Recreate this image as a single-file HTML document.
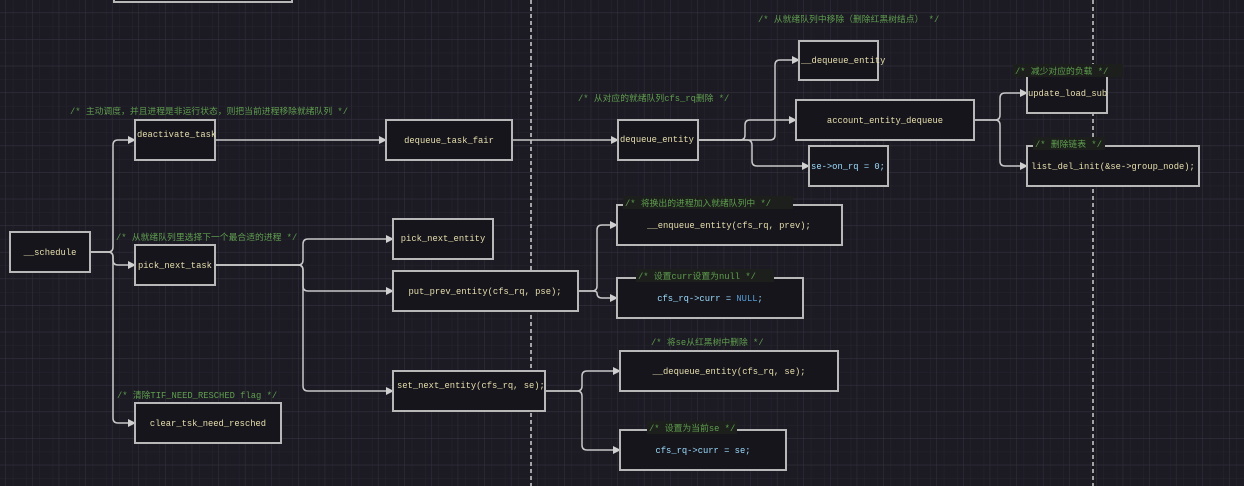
<!DOCTYPE html>
<html><head><meta charset="utf-8"><style>
html,body{margin:0;padding:0;background:#1c1a23;}
svg{display:block}
.b{fill:#16151c;stroke:#b8b8b8;stroke-width:2}
.t{font-family:"Liberation Mono","Noto Sans CJK SC",monospace;font-size:8.8px;fill:#e8dfae}
.c{font-family:"Liberation Mono","Noto Sans CJK SC",monospace;font-size:8.8px;fill:#5f9e4f}
.v{fill:#9cdcfe}
.k{fill:#569cd6}
.l{fill:none;stroke:#c8c8c8;stroke-width:1.5}
</style></head><body>
<svg width="1244" height="486" xmlns="http://www.w3.org/2000/svg">
<defs>
<pattern id="g1" width="13.3" height="13.3" patternUnits="userSpaceOnUse"><path d="M13.3 0V13.3H0" fill="none" stroke="#26242e" stroke-width="1"/></pattern>
<pattern id="g2" width="26.6" height="26.6" patternUnits="userSpaceOnUse" x="6" y="13"><path d="M26.6 0V26.6H0" fill="none" stroke="#34323c" stroke-width="1"/></pattern>
<marker id="a" markerWidth="8" markerHeight="8" refX="7" refY="4" orient="auto" markerUnits="userSpaceOnUse"><path d="M0,0 L8,4 L0,8 Z" fill="#d0d0d0"/></marker>
</defs>
<rect width="1244" height="486" fill="#1c1a23"/>
<rect width="1244" height="486" fill="url(#g1)"/>
<rect width="1244" height="486" fill="url(#g2)"/>
<line x1="531" y1="0" x2="531" y2="486" stroke="#cfcfcf" stroke-width="1.5" stroke-dasharray="4,3"/>
<line x1="1093" y1="0" x2="1093" y2="486" stroke="#cfcfcf" stroke-width="1.5" stroke-dasharray="4,3"/>

<g class="l" marker-end="url(#a)">
<path d="M90 252 H108 Q113 252 113 247 V145 Q113 140 118 140 H135"/>
<path d="M90 252 H108 Q113 252 113 257 V260 Q113 265 118 265 H135"/>
<path d="M90 252 H108 Q113 252 113 257 V418 Q113 423 118 423 H135"/>
<path d="M215 140 H386"/>
<path d="M512 140 H618"/>
<path d="M215 265 H298 Q303 265 303 260 V244 Q303 239 308 239 H393"/>
<path d="M215 265 H298 Q303 265 303 270 V286 Q303 291 308 291 H393"/>
<path d="M215 265 H298 Q303 265 303 270 V386 Q303 391 308 391 H393"/>
<path d="M698 140 H740 Q745 140 745 135 V125 Q745 120 750 120 H796"/>
<path d="M698 140 H770 Q775 140 775 135 V65 Q775 60 780 60 H799"/>
<path d="M698 140 H747 Q752 140 752 145 V161 Q752 166 757 166 H809"/>
<path d="M974 120 H995 Q1000 120 1000 115 V98 Q1000 93 1005 93 H1027"/>
<path d="M974 120 H995 Q1000 120 1000 125 V161 Q1000 166 1005 166 H1027"/>
<path d="M578 291 H592 Q597 291 597 286 V230 Q597 225 602 225 H617"/>
<path d="M578 291 H592 Q597 291 597 293 Q597 298 602 298 H617"/>
<path d="M545 391 H577 Q582 391 582 386 V376 Q582 371 587 371 H620"/>
<path d="M545 391 H577 Q582 391 582 396 V445 Q582 450 587 450 H620"/>
</g>

<rect class="b" x="114" y="-10" width="178" height="12"/>
<rect class="b" x="10" y="232" width="80" height="40"/>
<rect class="b" x="135" y="120" width="80" height="40"/>
<rect class="b" x="386" y="120" width="126" height="40"/>
<rect class="b" x="618" y="120" width="80" height="40"/>
<rect class="b" x="799" y="41" width="79" height="39"/>
<rect class="b" x="796" y="100" width="178" height="40"/>
<rect class="b" x="809" y="146" width="79" height="40"/>
<rect class="b" x="1027" y="76" width="80" height="37"/>
<rect class="b" x="1027" y="146" width="172" height="40"/>
<rect class="b" x="135" y="245" width="80" height="40"/>
<rect class="b" x="393" y="219" width="100" height="40"/>
<rect class="b" x="393" y="271" width="185" height="40"/>
<rect class="b" x="393" y="371" width="152" height="40"/>
<rect class="b" x="617" y="205" width="225" height="40"/>
<rect class="b" x="617" y="278" width="186" height="40"/>
<rect class="b" x="620" y="351" width="218" height="40"/>
<rect class="b" x="620" y="430" width="166" height="40"/>
<rect class="b" x="135" y="403" width="146" height="40"/>

<g fill="#1c1f1c">
<rect x="1013" y="64" width="110" height="13"/>
<rect x="1033" y="137" width="72" height="13"/>
<rect x="623" y="196" width="170" height="13"/>
<rect x="636" y="269" width="138" height="13"/>
<rect x="647" y="421" width="90" height="13"/>
</g>
<g class="c">
<text x="70" y="114">/* 主动调度，并且进程是非运行状态，则把当前进程移除就绪队列 */</text>
<text x="578" y="101">/* 从对应的就绪队列cfs_rq删除 */</text>
<text x="758" y="22">/* 从就绪队列中移除（删除红黑树结点） */</text>
<text x="1015" y="74">/* 减少对应的负载 */</text>
<text x="1035" y="147">/* 删除链表 */</text>
<text x="116" y="240">/* 从就绪队列里选择下一个最合适的进程 */</text>
<text x="625" y="206">/* 将换出的进程加入就绪队列中 */</text>
<text x="638" y="279">/* 设置curr设置为null */</text>
<text x="651" y="345">/* 将se从红黑树中删除 */</text>
<text x="649" y="431">/* 设置为当前se */</text>
<text x="117" y="398">/* 清除TIF_NEED_RESCHED flag */</text>
</g>

<g class="t">
<text x="50" y="255" text-anchor="middle">__schedule</text>
<text x="137" y="137">deactivate_task</text>
<text x="449" y="143" text-anchor="middle">dequeue_task_fair</text>
<text x="620" y="142">dequeue_entity</text>
<text x="801" y="63">__dequeue_entity</text>
<text x="885" y="123" text-anchor="middle">account_entity_dequeue</text>
<text x="1028" y="96">update_load_sub</text>
<text x="1113" y="169" text-anchor="middle">list_del_init(&amp;se-&gt;group_node);</text>
<text x="138" y="268">pick_next_task</text>
<text x="443" y="241" text-anchor="middle">pick_next_entity</text>
<text x="485" y="294" text-anchor="middle">put_prev_entity(cfs_rq, pse);</text>
<text x="397" y="388">set_next_entity(cfs_rq, se);</text>
<text x="729" y="228" text-anchor="middle">__enqueue_entity(cfs_rq, prev);</text>
<text x="729" y="374" text-anchor="middle">__dequeue_entity(cfs_rq, se);</text>
<text x="208" y="426" text-anchor="middle">clear_tsk_need_resched</text>
<text class="v" x="848" y="169" text-anchor="middle">se-&gt;on_rq = 0;</text>
<text class="v" x="710" y="301" text-anchor="middle">cfs_rq-&gt;curr = <tspan class="k">NULL</tspan>;</text>
<text class="v" x="703" y="453" text-anchor="middle">cfs_rq-&gt;curr = se;</text>
</g>
</svg>
</body></html>
